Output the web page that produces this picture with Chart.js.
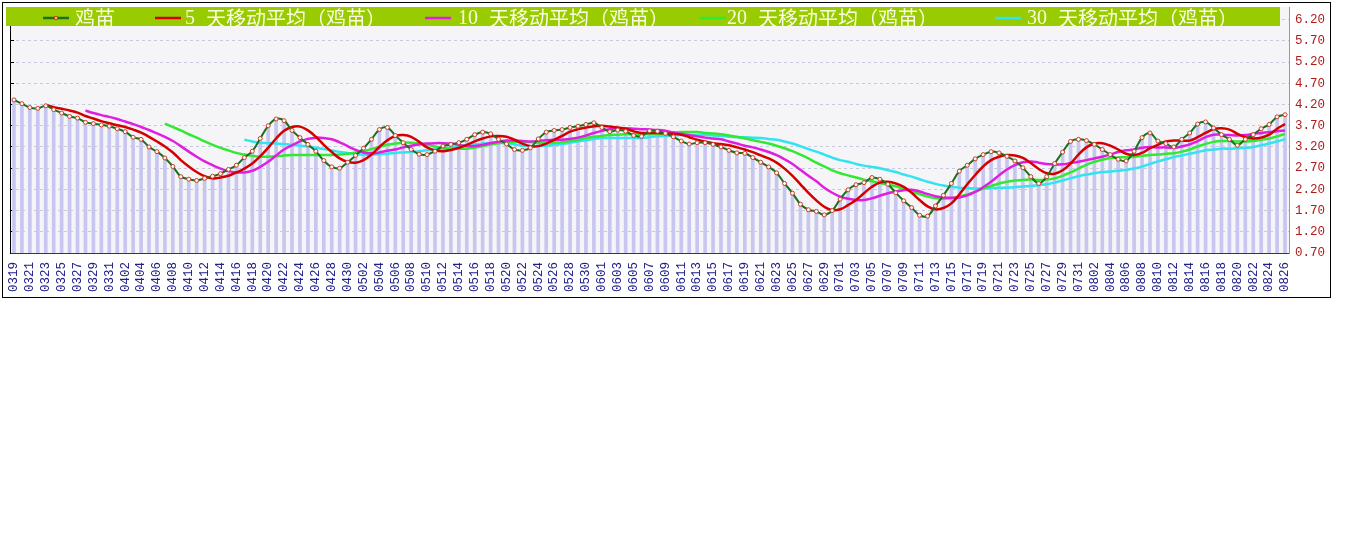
<!DOCTYPE html>
<html><head><meta charset="utf-8">
<script src="https://cdn.jsdelivr.net/npm/chart.js"></script>
<style>html,body{margin:0;padding:0;background:#fff;}#wrap{position:absolute;left:0;top:0;width:1345px;height:300px;}</style>
</head><body><div id="wrap"><canvas id="c" width="1345" height="300"></canvas></div>
<script>
const dates = ['0319','0320','0321','0322','0323','0324','0325','0326','0327','0328','0329','0330','0331',
'0401','0402','0403','0404','0405','0406','0407','0408','0409','0410','0411','0412','0413','0414','0415','0416','0417','0418','0419','0420','0421','0422','0423','0424','0425','0426','0427','0428','0429','0430',
'0501','0502','0503','0504','0505','0506','0507','0508','0509','0510','0511','0512','0513','0514','0515','0516','0517','0518','0519','0520','0521','0522','0523','0524','0525','0526','0527','0528','0529','0530','0531',
'0601','0602','0603','0604','0605','0606','0607','0608','0609','0610','0611','0612','0613','0614','0615','0616','0617','0618','0619','0620','0621','0622','0623','0624','0625','0626','0627','0628','0629','0630',
'0701','0702','0703','0704','0705','0706','0707','0708','0709','0710','0711','0712','0713','0714','0715','0716','0717','0718','0719','0720','0721','0722','0723','0724','0725','0726','0727','0728','0729','0730','0731',
'0801','0802','0803','0804','0805','0806','0807','0808','0809','0810','0811','0812','0813','0814','0815','0816','0817','0818','0819','0820','0821','0822','0823','0824','0825','0826'];

const price = [4.31,4.22,4.13,4.11,4.17,4.08,4.00,3.92,3.88,3.78,
3.75,3.72,3.69,3.63,3.56,3.43,3.38,3.20,3.09,2.94,
2.74,2.50,2.44,2.41,2.46,2.51,2.57,2.67,2.77,2.95,
3.10,3.40,3.70,3.86,3.82,3.59,3.42,3.26,3.10,2.88,
2.73,2.70,2.84,3.00,3.17,3.38,3.61,3.66,3.47,3.30,
3.14,3.03,3.02,3.10,3.22,3.26,3.30,3.38,3.49,3.55,
3.51,3.38,3.27,3.14,3.12,3.18,3.39,3.55,3.59,3.61,
3.66,3.69,3.73,3.77,3.66,3.56,3.60,3.57,3.47,3.45,
3.58,3.57,3.52,3.44,3.34,3.27,3.30,3.30,3.26,3.20,
3.12,3.06,3.05,2.95,2.84,2.73,2.59,2.34,2.11,1.85,
1.72,1.68,1.60,1.70,1.97,2.19,2.31,2.36,2.48,2.44,
2.32,2.12,1.93,1.77,1.59,1.57,1.81,2.06,2.34,2.63,
2.77,2.92,3.02,3.09,3.06,2.98,2.87,2.71,2.50,2.34,
2.50,2.81,3.08,3.33,3.38,3.35,3.26,3.14,3.02,2.91,
2.87,3.10,3.42,3.53,3.34,3.28,3.20,3.38,3.53,3.74,
3.79,3.65,3.49,3.38,3.24,3.38,3.49,3.63,3.73,3.91,
3.96];

// 5-day moving average, from 0323 on
const ma5 = [4.19,4.14,4.10,4.06,4.01,3.93,3.87,3.81,3.76,3.71,
3.67,3.61,3.54,3.44,3.33,3.21,3.07,2.89,2.74,2.61,
2.51,2.46,2.48,2.52,2.60,2.69,2.81,2.98,3.18,3.40,
3.58,3.67,3.68,3.59,3.44,3.25,3.08,2.93,2.85,2.83,
2.89,3.02,3.20,3.36,3.46,3.48,3.44,3.32,3.19,3.12,
3.10,3.13,3.18,3.25,3.33,3.40,3.45,3.46,3.44,3.37,
3.28,3.22,3.22,3.28,3.37,3.46,3.56,3.62,3.66,3.69,
3.70,3.68,3.66,3.63,3.57,3.53,3.53,3.53,3.52,3.51,
3.49,3.43,3.37,3.33,3.29,3.27,3.24,3.19,3.14,3.08,
3.00,2.93,2.83,2.69,2.52,2.32,2.12,1.94,1.79,1.71,
1.73,1.83,1.95,2.11,2.26,2.36,2.38,2.34,2.26,2.12,
1.95,1.80,1.73,1.76,1.87,2.08,2.32,2.54,2.74,2.89,
2.97,3.01,3.00,2.94,2.82,2.68,2.58,2.57,2.65,2.81,
3.02,3.19,3.28,3.29,3.23,3.14,3.04,3.01,3.06,3.17,
3.25,3.33,3.35,3.35,3.35,3.43,3.53,3.62,3.64,3.61,
3.51,3.43,3.40,3.42,3.49,3.63,3.74];

// 10-day moving average, from 0328 on
const ma10 = [4.06,4.00,3.95,3.91,3.86,3.80,3.74,3.67,3.60,3.52,
3.44,3.34,3.22,3.09,2.97,2.86,2.77,2.69,2.63,2.60,
2.60,2.64,2.73,2.85,3.00,3.14,3.24,3.33,3.39,3.42,
3.41,3.38,3.31,3.22,3.13,3.07,3.05,3.07,3.11,3.14,
3.19,3.23,3.26,3.28,3.29,3.29,3.28,3.25,3.22,3.22,
3.25,3.29,3.32,3.35,3.35,3.34,3.33,3.34,3.36,3.37,
3.37,3.39,3.42,3.47,3.53,3.58,3.62,3.64,3.64,3.63,
3.62,3.61,3.60,3.58,3.54,3.51,3.48,3.45,3.42,3.40,
3.38,3.33,3.28,3.23,3.19,3.14,3.08,3.01,2.91,2.80,
2.66,2.52,2.39,2.24,2.12,2.03,1.98,1.95,1.95,1.99,
2.05,2.11,2.15,2.18,2.19,2.15,2.09,2.04,2.01,2.00,
2.01,2.06,2.14,2.25,2.38,2.53,2.67,2.77,2.84,2.86,
2.83,2.80,2.79,2.79,2.82,2.85,2.89,2.93,2.97,3.02,
3.08,3.12,3.14,3.18,3.20,3.19,3.19,3.18,3.21,3.26,
3.34,3.43,3.49,3.49,3.48,3.47,3.48,3.51,3.53,3.55,
3.57,3.59];

// 20-day moving average, from 0407 on
const ma20 = [3.75,3.67,3.59,3.50,3.42,3.33,3.25,3.18,3.12,3.06,
3.02,2.99,2.97,2.97,2.98,3.00,3.01,3.01,3.01,3.01,
3.01,3.01,3.02,3.04,3.07,3.10,3.15,3.20,3.25,3.28,
3.30,3.30,3.28,3.25,3.21,3.18,3.16,3.16,3.16,3.18,
3.22,3.26,3.29,3.31,3.32,3.32,3.31,3.30,3.29,3.30,
3.31,3.34,3.37,3.41,3.44,3.46,3.48,3.49,3.50,3.50,
3.50,3.50,3.51,3.52,3.54,3.55,3.55,3.55,3.53,3.52,
3.50,3.47,3.44,3.40,3.36,3.32,3.28,3.23,3.17,3.10,
3.02,2.93,2.83,2.74,2.65,2.58,2.53,2.48,2.43,2.39,
2.35,2.31,2.27,2.21,2.15,2.09,2.03,1.99,1.98,1.99,
2.03,2.08,2.14,2.22,2.28,2.34,2.38,2.41,2.42,2.43,
2.42,2.43,2.46,2.52,2.60,2.69,2.78,2.85,2.90,2.94,
2.95,2.96,2.97,2.99,3.01,3.02,3.04,3.05,3.09,3.14,
3.21,3.27,3.32,3.34,3.34,3.33,3.33,3.34,3.37,3.40,
3.45,3.51];

// 30-day moving average, from 0417 on
const ma30 = [3.37,3.33,3.30,3.29,3.28,3.27,3.25,3.23,3.21,3.18,
3.15,3.12,3.08,3.06,3.03,3.02,3.02,3.03,3.04,3.06,
3.07,3.08,3.10,3.12,3.14,3.17,3.19,3.22,3.24,3.26,
3.28,3.30,3.30,3.28,3.26,3.23,3.22,3.22,3.23,3.25,
3.27,3.30,3.33,3.36,3.39,3.41,3.41,3.41,3.41,3.41,
3.41,3.43,3.45,3.46,3.47,3.48,3.48,3.48,3.48,3.47,
3.46,3.44,3.43,3.43,3.42,3.41,3.39,3.37,3.33,3.28,
3.22,3.15,3.09,3.02,2.95,2.89,2.85,2.80,2.76,2.73,
2.70,2.65,2.61,2.55,2.50,2.44,2.38,2.33,2.29,2.26,
2.24,2.23,2.22,2.22,2.23,2.24,2.24,2.25,2.27,2.28,
2.30,2.32,2.36,2.41,2.46,2.51,2.55,2.58,2.61,2.62,
2.64,2.66,2.69,2.74,2.80,2.86,2.91,2.96,3.00,3.04,
3.08,3.12,3.14,3.16,3.16,3.17,3.18,3.20,3.24,3.28,
3.33,3.38];

const yTicks = [0.70,1.20,1.70,2.20,2.70,3.20,3.70,4.20,4.70,5.20,5.70,6.20];
const seriesNames = ['鸡苗','5 天移动平均（鸡苗）','10 天移动平均（鸡苗）','20 天移动平均（鸡苗）','30 天移动平均（鸡苗）'];
const seriesColors = ['#18701c','#d40000','#e01ee0','#33e833','#33e3f0'];

const lead = n => Array(n).fill(null);

const monoFont = "'Liberation Mono', 'DejaVu Sans Mono', monospace";

const framePlugin = {
  id: 'frame',
  beforeDraw(chart) {
    const {ctx, chartArea: a} = chart;
    ctx.save();
    ctx.fillStyle = '#ffffff';
    ctx.fillRect(0, 0, chart.width, chart.height);
    ctx.fillStyle = '#f5f4f6';
    ctx.fillRect(a.left, a.top, a.right - a.left, a.bottom - a.top);
    ctx.restore();
  },
  afterDraw(chart) {
    const ctx = chart.ctx;
    ctx.save();
    ctx.fillStyle = '#99cc00';
    ctx.fillRect(6, 7, 1274, 19);
    const lineX = [43, 155, 425, 700, 995];
    const textX = [75, 185, 458, 727, 1027];
    const ly = 18;
    for (let i = 0; i < seriesNames.length; i++) {
      ctx.strokeStyle = seriesColors[i];
      ctx.lineWidth = 2.5;
      ctx.beginPath();
      ctx.moveTo(lineX[i], ly);
      ctx.lineTo(lineX[i] + 26, ly);
      ctx.stroke();
      if (i === 0) {
        ctx.beginPath();
        ctx.arc(lineX[i] + 13, ly, 1.8, 0, Math.PI * 2);
        ctx.fillStyle = '#ffcc33';
        ctx.fill();
        ctx.lineWidth = 1;
        ctx.strokeStyle = '#cc3322';
        ctx.stroke();
      }
      ctx.fillStyle = '#fbfbe2';
      ctx.textBaseline = 'middle';
      ctx.textAlign = 'left';
      const m = seriesNames[i].match(/^(\d+)\s+(.*)$/);
      if (m) {
        ctx.font = "20px 'Liberation Serif', serif";
        ctx.fillText(m[1], textX[i], ly + 1);
        const w = ctx.measureText(m[1]).width;
        ctx.font = "20px 'Noto Sans CJK SC', sans-serif";
        ctx.fillText(m[2], textX[i] + w + 11, ly);
      } else {
        ctx.font = "20px 'Noto Sans CJK SC', sans-serif";
        ctx.fillText(seriesNames[i], textX[i], ly);
      }
    }
    ctx.strokeStyle = '#000';
    ctx.lineWidth = 1;
    ctx.strokeRect(2.5, 2.5, 1328, 295);
    ctx.restore();
  }
};

const lineDs = (label, data, color, width, order) => ({
  type: 'line', label, data, borderColor: color, borderWidth: width,
  pointRadius: 0, tension: 0.4, order, yAxisID: 'y', spanGaps: false
});

new Chart(document.getElementById('c'), {
  type: 'bar',
  data: {
    labels: dates,
    datasets: [
      { type: 'line', label: seriesNames[0], data: price, borderColor: seriesColors[0], borderWidth: 2,
        pointRadius: 2, pointBorderWidth: 1, pointBorderColor: '#c8402c', pointBackgroundColor: '#fff8f0',
        tension: 0.35, order: 0, yAxisID: 'y' },
      lineDs(seriesNames[1], lead(4).concat(ma5), seriesColors[1], 2.5, 1),
      lineDs(seriesNames[2], lead(9).concat(ma10), seriesColors[2], 2.5, 2),
      lineDs(seriesNames[3], lead(19).concat(ma20), seriesColors[3], 2.5, 3),
      lineDs(seriesNames[4], lead(29).concat(ma30), seriesColors[4], 2.5, 4),
      { type: 'bar', label: 'bars', data: price, backgroundColor: '#c6c6f0', barThickness: 3,
        order: 10, yAxisID: 'y' }
    ]
  },
  options: {
    responsive: false,
    animation: false,
    layout: { padding: { left: 10, right: 0, top: 7, bottom: 3 } },
    plugins: { legend: { display: false }, tooltip: { enabled: false } },
    scales: {
      x: {
        offset: true,
        grid: { display: true, drawOnChartArea: false, offset: false, color: '#c00000', tickLength: -4 },
        border: { color: '#c00000' },
        ticks: {
          autoSkip: false, minRotation: 90, maxRotation: 90, padding: 13,
          color: '#20208c', font: { family: monoFont, size: 12.5 },
          callback: (v, i) => (i % 2 === 0 ? dates[i] : '')
        },
        afterFit: s => { s.height = 44; s.paddingLeft = 0; s.paddingRight = 0; }
      },
      y: {
        position: 'right', min: 0.7, max: 6.5,
        afterBuildTicks: s => { s.ticks = yTicks.map(v => ({ value: v })); },
        grid: { color: '#c8c8de', drawTicks: false },
        border: { color: '#9a9a9a', dash: [3, 3] },
        ticks: { color: '#b01c1c', padding: 6, font: { family: monoFont, size: 12.5 },
                 callback: v => Number(v).toFixed(2) },
        afterFit: s => { s.width = 56; s.paddingTop = 0; s.paddingBottom = 0; }
      },
      yL: {
        position: 'left', min: 0.7, max: 6.5,
        afterBuildTicks: s => { s.ticks = yTicks.map(v => ({ value: v })); },
        grid: { drawOnChartArea: false, color: '#000', tickLength: -4 },
        border: { color: '#000' },
        ticks: { display: false },
        afterFit: s => { s.width = 0; s.paddingTop = 0; s.paddingBottom = 0; }
      }
    }
  },
  plugins: [framePlugin]
});
</script>
</body></html>
